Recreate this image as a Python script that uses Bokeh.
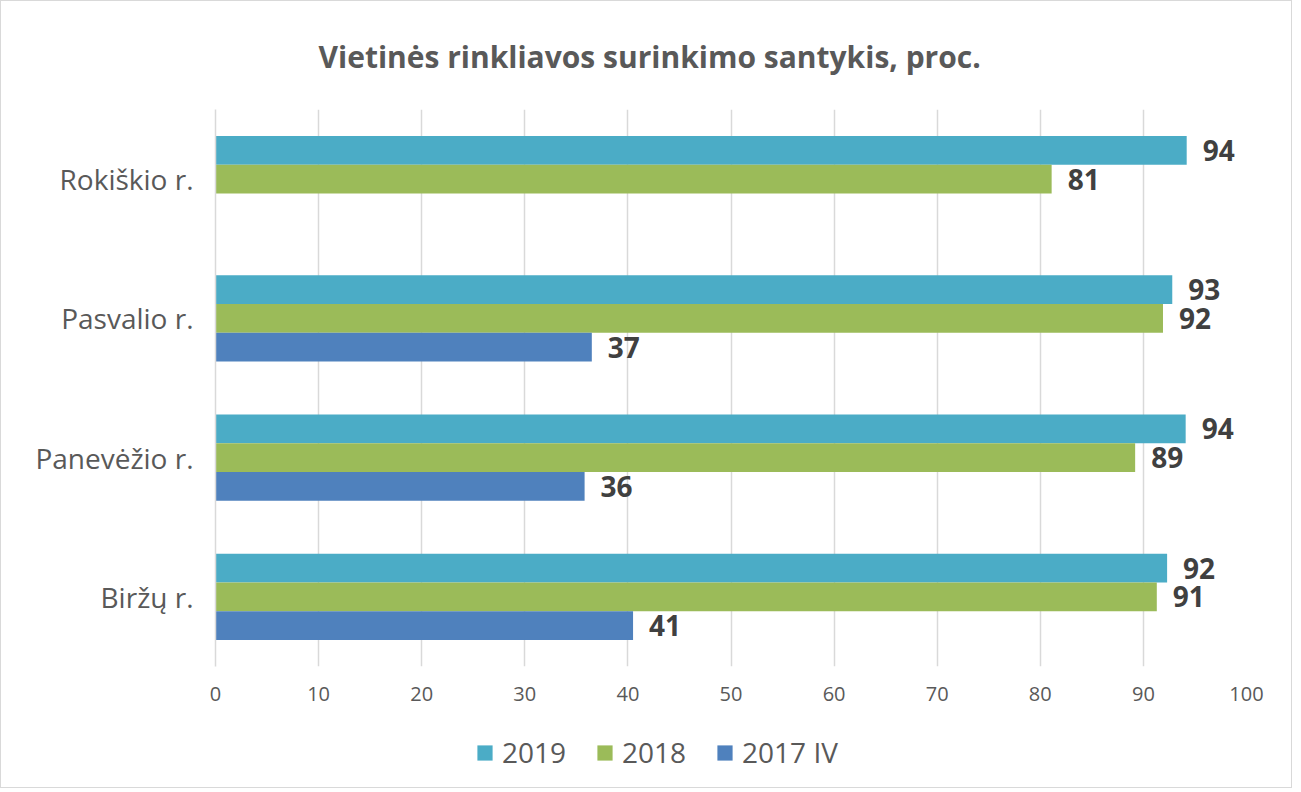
from bokeh.plotting import figure
from bokeh.layouts import column
from bokeh.models import (ColumnDataSource, FactorRange, Range1d, FixedTicker, Title,
                          Legend, LegendItem)
from bokeh.transform import dodge
from bokeh.core.properties import value
from bokeh.embed import file_html
from bokeh.resources import INLINE

# ---- data ----
categories = ["Biržų r.", "Panevėžio r.", "Pasvalio r.", "Rokiškio r."]
series_names = ["2019", "2018", "2017 IV"]
values_2019 = [92.3, 94.1, 92.8, 94.2]
values_2018 = [91.3, 89.2, 91.9, 81.1]
values_2017 = [40.5, 35.8, 36.5, None]
labels_2019 = ["92", "94", "93", "94"]
labels_2018 = ["91", "89", "92", "81"]
labels_2017 = ["41", "36", "37", ""]
x_ticks = [0, 10, 20, 30, 40, 50, 60, 70, 80, 90, 100]
title_text = "Vietinės rinkliavos surinkimo santykis, proc."

colors = ["#4BACC6", "#9BBB59", "#4F81BD"]
offsets = [0.206, 0.0, -0.206]
FONT = "Open Sans"

p = figure(width=1290, height=730, output_backend="svg", toolbar_location=None,
           y_range=FactorRange(factors=categories, range_padding=0),
           x_range=Range1d(0, 100),
           min_border_left=214, min_border_right=45, min_border_top=108,
           min_border_bottom=65)
p.outline_line_color = None

for vals, labs, col, off in zip([values_2019, values_2018, values_2017],
                                [labels_2019, labels_2018, labels_2017],
                                colors, offsets):
    cats = [c for c, v in zip(categories, vals) if v is not None]
    vv = [v for v in vals if v is not None]
    ll = [l for l, v in zip(labs, vals) if v is not None]
    src = ColumnDataSource(dict(cat=cats, val=vv, lbl=ll))
    p.hbar(y=dodge("cat", off, range=p.y_range), left=0, right="val", height=0.206,
           source=src, fill_color=col, line_color=None)
    p.text(x="val", y=dodge("cat", off, range=p.y_range), text="lbl", source=src,
           x_offset=16, text_align="left", text_baseline="middle",
           text_font=value(FONT), text_font_style="bold", text_font_size="28px",
           text_color="#404040")

# axes
p.xaxis.ticker = FixedTicker(ticks=x_ticks)
p.xaxis.axis_line_color = None
p.xaxis.major_tick_line_color = None
p.xaxis.minor_tick_line_color = None
p.xaxis.major_tick_out = 0
p.xaxis.major_label_text_font = FONT
p.xaxis.major_label_text_font_size = "20px"
p.xaxis.major_label_text_color = "#595959"
p.xaxis.major_label_standoff = 20

p.yaxis.axis_line_color = "#D9D9D9"
p.yaxis.axis_line_width = 1.5
p.yaxis.major_tick_line_color = None
p.yaxis.minor_tick_line_color = None
p.yaxis.major_tick_out = 0
p.yaxis.major_label_text_font = FONT
p.yaxis.major_label_text_font_size = "28px"
p.yaxis.major_label_text_color = "#595959"
p.yaxis.major_label_standoff = 22

p.ygrid.grid_line_color = None
p.xgrid.grid_line_color = "#D9D9D9"
p.xgrid.grid_line_width = 1.5

# title
p.add_layout(Title(text=title_text, align="left", offset=103, standoff=65,
                   text_font=FONT, text_font_style="bold", text_font_size="30px",
                   text_color="#595959"), "above")

# legend strip (swatch-only glyphs with no drawable coordinates)
nan = float("nan")
pl = figure(width=1290, height=56, output_backend="svg", toolbar_location=None,
            x_range=Range1d(0, 1), y_range=Range1d(0, 1),
            x_axis_location=None, y_axis_location=None,
            min_border_left=0, min_border_right=0, min_border_top=0, min_border_bottom=0)
pl.outline_line_color = None
pl.border_fill_color = None
pl.xgrid.visible = False
pl.ygrid.visible = False
swatches = [pl.hbar(y=[nan], left=[nan], right=[nan], height=0.5, fill_color=c, line_color=None)
            for c in colors]
legend = Legend(items=[LegendItem(label=n, renderers=[r]) for n, r in zip(series_names, swatches)],
                orientation="horizontal", location=(260, 16),
                border_line_color=None, background_fill_alpha=0,
                label_text_font=FONT, label_text_font_size="28px",
                label_text_color="#595959", glyph_width=19, glyph_height=19,
                label_standoff=8, spacing=29, padding=0, margin=0)
pl.add_layout(legend, "center")

layout = column(p, pl, spacing=0)
layout.styles = {"border": "1px solid #D9D9D9"}

open("out.html", "w").write(file_html(layout, INLINE))
